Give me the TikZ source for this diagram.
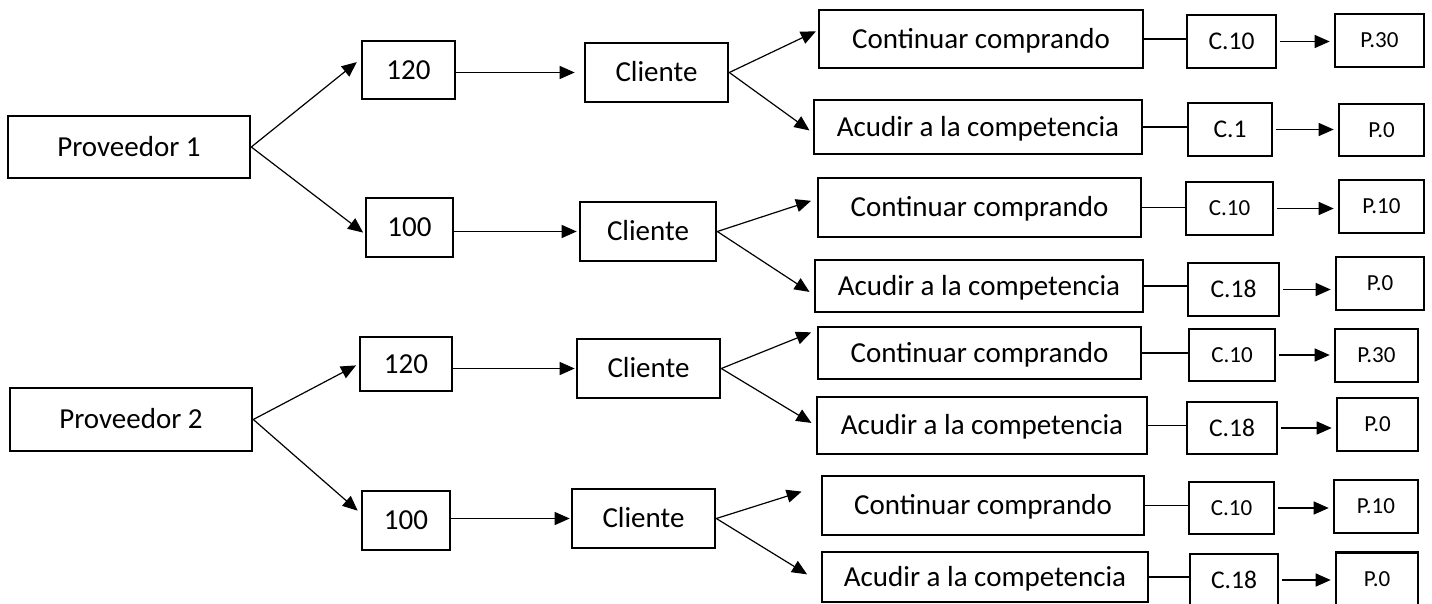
\documentclass[tikz,border=0pt]{standalone}
\usepackage{fontspec}
\setmainfont{Carlito}
\usetikzlibrary{arrows.meta}
\begin{document}
\begin{tikzpicture}[x=1pt,y=-1pt,
  box/.style={draw, line width=2.6pt, inner sep=0pt, text height=18.7pt, text depth=0pt, font=\fontsize{29}{34}\selectfont},
  sm/.style={box, text height=16.4pt, font=\fontsize{25.5}{30}\selectfont},
  xs/.style={box, text height=14.8pt, font=\fontsize{23}{28}\selectfont},
  conn/.style={line width=1.2pt},
  arr/.style={conn, -{Triangle[length=15pt,width=13pt]}}]
\useasboundingbox (0,0) rectangle (1432,604);
% Proveedores
\node[box, minimum width=242, minimum height=62] (p1) at (129,147) {Proveedor 1};
\node[box, minimum width=242, minimum height=63] (p2) at (131,419.5) {Proveedor 2};
% prices
\node[box, minimum width=93, minimum height=58] (a1) at (408.5,70) {120};
\node[box, minimum width=87, minimum height=59] (b1) at (409.5,227.5) {100};
\node[box, minimum width=92, minimum height=54] (a2) at (406,364) {120};
\node[box, minimum width=88, minimum height=59] (b2) at (406,520.5) {100};
% clientes
\node[box, minimum width=143, minimum height=59] (cl1) at (656.5,72.5) {Cliente};
\node[box, minimum width=136, minimum height=59] (cl2) at (648,231.5) {Cliente};
\node[box, minimum width=143, minimum height=59] (cl3) at (648.5,368.5) {Cliente};
\node[box, minimum width=143, minimum height=59] (cl4) at (643.5,518.5) {Cliente};
% decisions
\node[box, minimum width=324, minimum height=58] (k1) at (981,39) {Continuar comprando};
\node[box, minimum width=328, minimum height=54] (q1) at (978,127) {Acudir a la competencia};
\node[box, minimum width=323, minimum height=59] (k2) at (979.5,207.5) {Continuar comprando};
\node[box, minimum width=328, minimum height=52] (q2) at (979,286) {Acudir a la competencia};
\node[box, minimum width=323, minimum height=52] (k3) at (979.5,353) {Continuar comprando};
\node[box, minimum width=330, minimum height=57] (q3) at (982,425.5) {Acudir a la competencia};
\node[box, minimum width=322, minimum height=59] (k4) at (983,505.5) {Continuar comprando};
\node[box, minimum width=326, minimum height=50] (q4) at (985,577) {Acudir a la competencia};
% costs
\node[sm, minimum width=89, minimum height=53] (c1) at (1231.5,41.5) {C.10};
\node[sm, minimum width=84, minimum height=53] (c2) at (1230,129.5) {C.1};
\node[xs, minimum width=87, minimum height=53] (c3) at (1229.5,208.5) {C.10};
\node[sm, minimum width=91, minimum height=53] (c4) at (1233.5,289.5) {C.18};
\node[xs, minimum width=86, minimum height=52] (c5) at (1232,355) {C.10};
\node[sm, minimum width=90, minimum height=52] (c6) at (1232,428) {C.18};
\node[xs, minimum width=85, minimum height=52] (c7) at (1231.5,508) {C.10};
\node[sm, minimum width=88, minimum height=52] (c8) at (1234,580) {C.18};
% payoffs
\node[xs, minimum width=89, minimum height=53] (d1) at (1379.5,40.5) {P.30};
\node[xs, minimum width=85, minimum height=52] (d2) at (1381.5,130) {P.0};
\node[xs, minimum width=85, minimum height=53] (d3) at (1381.5,206.5) {P.10};
\node[xs, minimum width=88, minimum height=53] (d4) at (1380,283.5) {P.0};
\node[xs, minimum width=83, minimum height=53] (d5) at (1376.5,355.5) {P.30};
\node[xs, minimum width=81, minimum height=53] (d6) at (1377.5,424.5) {P.0};
\node[xs, minimum width=84, minimum height=53] (d7) at (1376,506.5) {P.10};
\node[xs, minimum width=82, minimum height=53] (d8) at (1377,579) {P.0};
% proveedor arrows
\draw[arr, shorten >=5pt] (p1.east) -- (a1.167);
\draw[arr, shorten >=2pt] (p1.east) -- (b1.188);
\draw[arr, shorten >=3pt] (p2.east) -- (a2.west);
\draw[arr, shorten >=4pt] (p2.east) -- (b2.171);
% price to cliente
\draw[arr, shorten >=9pt] (a1.east |- cl1.west) -- (cl1.west);
\draw[arr, shorten >=2pt] (b1.east |- cl2.west) -- (cl2.west);
\draw[arr, shorten >=1pt] (a2.east |- cl3.west) -- (cl3.west);
\draw[arr, shorten >=1pt] (b2.east |- cl4.west) -- (cl4.west);
% cliente fans
\draw[arr, shorten >=2pt] (cl1.east) -- (k1.177);
\draw[arr, shorten >=4pt] (cl1.east) -- (q1.182);
\draw[arr, shorten >=6pt] (cl2.east) -- (k2.177);
\draw[arr, shorten >=5pt] (cl2.east) -- (q2.183);
\draw[arr, shorten >=6pt] (cl3.east) -- (k3.172);
\draw[arr, shorten >=5pt] (cl3.east) -- (q3.west);
\draw[arr, shorten >=20pt] (cl4.east) -- (k4.173);
\draw[arr, shorten >=16pt] (cl4.east) -- (q4.182);
% decision to cost
\foreach \k/\c in {k1/c1,q1/c2,k2/c3,q2/c4,k3/c5,q3/c6,k4/c7,q4/c8}
  \draw[conn] (\k.east) -- (\k.east -| \c.west);
% cost to payoff
\foreach \c/\d in {c1/d1,c2/d2,c3/d3,c4/d4,c5/d5,c6/d6,c7/d7,c8/d8}
  \draw[arr, shorten <=3pt, shorten >=4pt] (\c.east) -- (\c.east -| \d.west);
\end{tikzpicture}
\end{document}
